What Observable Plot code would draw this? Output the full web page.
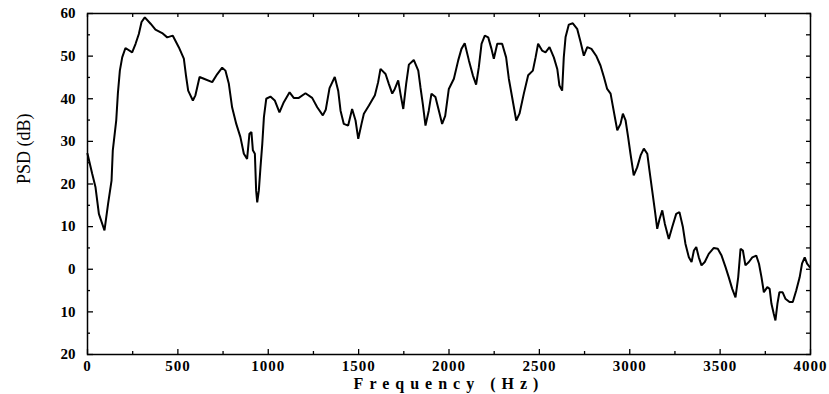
<!DOCTYPE html>
<html><head><meta charset="utf-8">
<script src="https://cdn.jsdelivr.net/npm/d3@7"></script>
<script src="https://cdn.jsdelivr.net/npm/@observablehq/plot@0.6"></script>
<style>
body{margin:0;background:#fff;}
</style></head><body>
<div id="chart"></div>
<script>
const freq = [0,26,44,63,94,114,133,140,159,168,179,192,210,247,266,284,299,317,349,376,413,441,472,505,533,546,557,583,597,620,644,
690,718,745,763,782,800,823,846,865,883,896,907,915,926,933,939,948,957,967,976,989,1012,1036,1062,1086,1118,1141,1169,1206,1243,1271,1302,1318,
1339,1368,1387,1400,1418,1442,1464,1483,1498,1516,1529,1557,1590,1608,1621,1649,1667,1686,1700,1719,1733,1747,1763,1778,1805,1830,1842,1855,1870,1888,1903,1925,1944,1962,1979,
1999,2027,2051,2069,2087,2110,2132,2150,2165,2180,2198,2217,2235,2248,2267,2294,2316,2331,2349,2372,2390,2414,2438,2464,2479,2493,2515,2534,2556,2580,2599,2611,2626,2635,2645,
2663,2685,2709,2728,2746,2765,2788,2814,2838,2857,2875,2894,2906,2921,2931,2949,2962,2977,2991,3004,3022,3041,3060,3078,3097,3109,3124,3139,3152,3165,3180,3194,3216,3235,3257,3275,3294,3308,
3327,3342,3355,3368,3382,3397,3415,3437,3465,3487,3508,3530,3548,3567,3585,3600,3613,3626,3640,3659,3678,3700,3715,3729,3742,3761,3774,3784,3797,3806,3817,3828,3846,3861,3884,3902,3921,3940,3953,3968,3981,3996];
const psd = [27.1,22.4,19.3,13,9.1,15.4,20.8,27.9,34.9,41.2,46.6,49.7,51.9,50.9,52.9,55.2,58,59.1,57.6,56.2,55.4,54.4,54.8,52.1,49.4,45.1,41.9,39.6,40.8,45.1,44.7,
43.9,45.8,47.3,46.6,43.5,38,34.1,31,27.1,25.9,31.8,32.2,27.9,27.1,18.5,15.7,18.5,23.9,29.4,35.7,40,40.5,39.6,36.8,39.2,41.5,40.2,40.2,41.3,40.2,38,36.1,37.4,
42.5,45.1,41.9,37.2,34.1,33.7,37.6,34.9,30.6,34.1,36.5,38.4,40.8,43.9,47,45.8,43.5,41.2,42.3,44.3,40.8,37.6,43.5,48,49.1,46.6,42.7,38.8,33.7,37.2,41.2,40.4,37.2,34.1,36,
42.3,44.7,49,51.7,53,49,45.5,43.3,47.4,52.9,54.8,54.4,51.7,49.4,52.9,52.9,49.7,44.7,40.4,34.9,36.5,41.2,45.5,46.6,49.7,52.9,51.3,50.9,52.1,49.7,47,43.1,41.9,49.7,54.5,
57.4,57.7,56.4,53.3,50.1,52.1,51.7,50.1,47.8,45.1,42.3,41.2,38.4,34.9,32.6,34.1,36.5,34.9,31,27.1,22,23.9,26.7,28.3,27.1,23.2,18.5,13.8,9.5,11.8,13.8,10.7,7.1,9.9,13,13.4,9.9,6,
2.8,1.7,4.4,5.2,2.8,0.9,1.7,3.6,5,4.8,3.2,0.5,-1.9,-4.6,-6.6,-1.9,4.8,4.4,0.9,1.7,2.8,3.2,1.3,-1.9,-5.4,-4.2,-4.6,-8.1,-10.5,-12,-8.1,-5.4,-5.4,-6.9,-7.7,-7.7,-5,-1.9,1.3,2.8,1.3,0.5];
const xTicks = [0,500,1000,1500,2000,2500,3000,3500,4000];
const xMinor = [250,750,1250,1750,2250,2750,3250,3750];
const yTicks = [-20,-10,0,10,20,30,40,50,60];
const yMinor = [-15,-5,5,15,25,35,45,55];
const yTickLabels = ["20","10","0","10","20","30","40","50","60"];
const xLabel = "Frequency (Hz)";
const yLabel = "PSD (dB)";

const data = freq.map((f, i) => ({f, p: psd[i]}));
const allX = xTicks.concat(xMinor);
const allY = yTicks.concat(yMinor);
const blank = () => "";

const plot = Plot.plot({
  width: 829, height: 394,
  marginLeft: 87, marginRight: 19, marginTop: 13, marginBottom: 40,
  x: {domain: [0, 4000], label: null},
  y: {domain: [-20, 60], label: null},
  style: {fontFamily: "'Liberation Serif', 'Times New Roman', serif", background: "#fff", color: "#000"},
  marks: [
    Plot.axisX({anchor: "bottom", ticks: xTicks, tickSize: 0, tickPadding: 6, fontSize: 15, fontWeight: "bold", label: null,
      tickFormat: (d) => String(d), className: "xlab"}),
    // inward tick marks (drawn outward then shifted back inside the frame)
    Plot.axisX({anchor: "bottom", ticks: xTicks, tickSize: 5, dy: -5, tickFormat: blank, label: null, strokeWidth: 1.3}),
    Plot.axisX({anchor: "bottom", ticks: xMinor, tickSize: 3, dy: -3, tickFormat: blank, label: null, strokeWidth: 1.3}),
    Plot.axisX({anchor: "top", ticks: allX, tickSize: 3, dy: 3, tickFormat: blank, label: null, strokeWidth: 1.3}),
    Plot.axisY({anchor: "left", ticks: yTicks, tickSize: 0, tickPadding: 12, fontSize: 15, fontWeight: "bold", label: null,
      tickFormat: (d) => yTickLabels[yTicks.indexOf(d)]}),
    Plot.axisY({anchor: "left", ticks: yTicks, tickSize: 6, dx: 6, tickFormat: blank, label: null, strokeWidth: 1.3}),
    Plot.axisY({anchor: "left", ticks: yMinor, tickSize: 3, dx: 3, tickFormat: blank, label: null, strokeWidth: 1.3}),
    Plot.axisY({anchor: "right", ticks: allY, tickSize: 5, dx: -5, tickFormat: blank, label: null, strokeWidth: 1.3}),
    Plot.frame({stroke: "#000", strokeWidth: 1.5}),
    Plot.line(data, {x: "f", y: "p", stroke: "#000", strokeWidth: 2, strokeLinejoin: "miter"}),
    Plot.text([xLabel], {frameAnchor: "bottom", dy: 29, fontSize: 16, fontWeight: "bold", lineAnchor: "middle", className: "xtitle"}),
    Plot.text([yLabel], {frameAnchor: "left", dx: -63, rotate: -90, fontSize: 18, lineAnchor: "middle"})
  ]
});
plot.querySelectorAll(".xtitle text").forEach((t) => t.setAttribute("letter-spacing", "6"));
plot.querySelectorAll(".xlab text").forEach((t) => t.setAttribute("letter-spacing", "1"));
document.getElementById("chart").append(plot);
</script>
</body></html>
